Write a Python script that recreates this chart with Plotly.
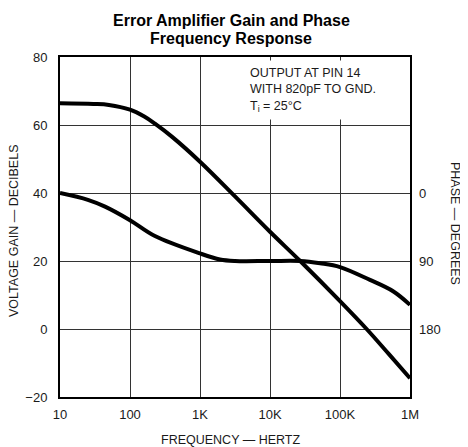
import plotly.graph_objects as go

# Data
gain_freq = [10, 30, 50, 100, 160, 227, 400, 1000, 3162, 10000, 27000, 100000, 240000, 500000, 1000000]
gain_db = [66.4, 66.2, 65.9, 64.5, 62.5, 60.4, 56.5, 49.2, 39.0, 28.6, 20.0, 8.2, 0.0, -7.4, -14.5]

phase_freq = [10, 25, 44, 100, 227, 1000, 1930, 3162, 10000, 27000, 52000, 100000, 268000, 573000, 1000000]
phase_deg = [0, 9, 18, 36, 57, 80, 88, 90, 90, 90, 93, 98, 115, 130, 148]

x_tickvals = [10, 100, 1000, 10000, 100000, 1000000]
x_ticktext = ["10", "100", "1K", "10K", "100K", "1M"]
y_tickvals = [-20, 0, 20, 40, 60, 80]
phase_tickvals = [0, 90, 180]

FONT = "Liberation Sans"
TXT = "#1a1a1a"

fig = go.Figure()
fig.add_trace(go.Scatter(x=gain_freq, y=gain_db, mode="lines",
                         line=dict(color="black", width=4, shape="spline", smoothing=1.0),
                         showlegend=False, hoverinfo="skip"))
fig.add_trace(go.Scatter(x=phase_freq, y=phase_deg, mode="lines", yaxis="y2",
                         line=dict(color="black", width=4, shape="spline", smoothing=1.0),
                         showlegend=False, hoverinfo="skip"))

fig.update_layout(
    width=460, height=439,
    margin=dict(l=52, r=58, t=49, b=50, autoexpand=False),
    paper_bgcolor="white", plot_bgcolor="white",
    font=dict(family=FONT, size=13, color=TXT),
    xaxis=dict(type="log", range=[1, 6], tickvals=x_tickvals, ticktext=x_ticktext,
               showgrid=True, gridcolor="#333333", gridwidth=1.2,
               showline=True, linecolor="black", linewidth=2, mirror=True,
               ticks="", ticklabelstandoff=4, zeroline=False,
               tickfont=dict(size=13, color=TXT)),
    yaxis=dict(range=[-20, 80], tickvals=y_tickvals,
               showgrid=True, gridcolor="#333333", gridwidth=1.2,
               showline=True, linecolor="black", linewidth=2, mirror=True,
               ticks="", ticklabelstandoff=8, zeroline=False,
               tickfont=dict(size=13, color=TXT)),
    yaxis2=dict(overlaying="y", side="right", range=[270, -180], tickvals=phase_tickvals,
                showgrid=False, showline=False, ticks="", ticklabelstandoff=8, zeroline=False,
                tickfont=dict(size=13, color=TXT)),
)

annos = [
    dict(text="<b>Error Amplifier Gain and Phase</b>",
         xref="paper", yref="paper", x=0.489, y=1.0, yshift=37, xanchor="center", yanchor="middle",
         showarrow=False, font=dict(family=FONT, size=16, color="black")),
    dict(text="<b>Frequency Response</b>",
         xref="paper", yref="paper", x=0.489, y=1.0, yshift=19, xanchor="center", yanchor="middle",
         showarrow=False, font=dict(family=FONT, size=16, color="black")),
    dict(text="OUTPUT AT PIN 14<br>WITH 820pF TO GND.<br>T<sub>i</sub> = 25°C",
         xref="paper", yref="paper", x=0.54, xshift=-5, y=0.985, yshift=2, xanchor="left", yanchor="top",
         showarrow=False, align="left", bgcolor="white", borderpad=5,
         font=dict(family=FONT, size=12.5, color=TXT)),
    dict(text="FREQUENCY — HERTZ", xref="paper", yref="paper", x=0.489, y=0, yshift=-43,
         xanchor="center", yanchor="middle", showarrow=False,
         font=dict(family=FONT, size=12.5, color=TXT)),
    dict(text="VOLTAGE GAIN — DECIBELS", xref="paper", yref="paper", x=0, xshift=-46, y=0.5, yshift=-4,
         xanchor="center", yanchor="middle", textangle=-90, showarrow=False,
         font=dict(family=FONT, size=12.5, color=TXT)),
    dict(text="PHASE — DEGREES", xref="paper", yref="paper", x=1, xshift=45, y=1.0, yshift=-166,
         xanchor="center", yanchor="middle", textangle=90, showarrow=False,
         font=dict(family=FONT, size=12.5, color=TXT)),
]
fig.update_layout(annotations=annos)

fig.write_html("out.html")
